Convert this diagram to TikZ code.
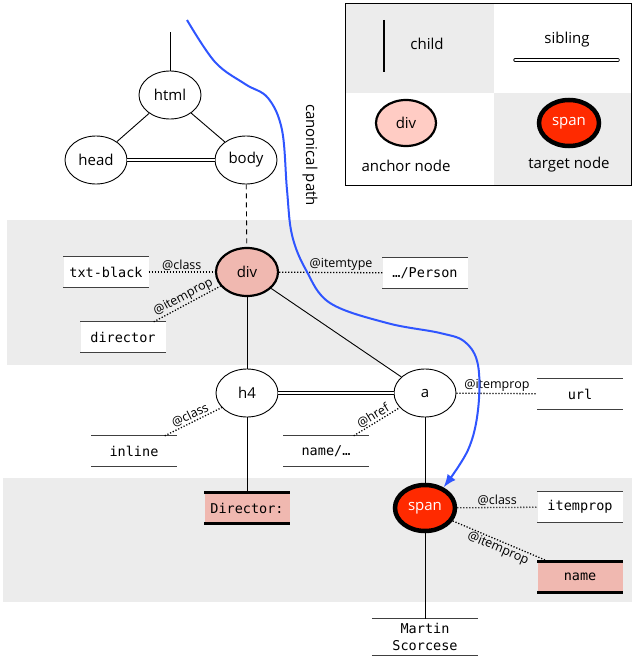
\documentclass[tikz,border=0pt]{standalone}
\usepackage{fontspec}
\setmainfont{Open Sans}
\setmonofont{DejaVu Sans Mono}
\usetikzlibrary{shapes.geometric,arrows.meta}

\definecolor{bandgray}{HTML}{ECECEC}
\definecolor{anchorpink}{HTML}{F0B8B0}
\definecolor{legendpink}{HTML}{FFCCC4}
\definecolor{targetred}{HTML}{FF2A00}
\definecolor{pathblue}{HTML}{2F55FF}

\tikzset{
  elem/.style={ellipse, draw, line width=0.9pt, minimum width=62pt, minimum height=48pt, inner sep=0pt, font=\fontsize{15}{18}\selectfont},
  anchornode/.style={elem, fill=anchorpink, line width=2.2pt},
  targetnode/.style={elem, fill=targetred, line width=4.5pt, text=white, minimum width=60pt, minimum height=46pt},
  valbox/.style={minimum width=85pt, minimum height=30pt, inner sep=0pt, fill=white, font=\fontsize{13.5}{16}\ttfamily},
  hitbox/.style={valbox, fill=anchorpink},
  valline/.style={line width=1.2pt, draw=black!75},
  hitline/.style={line width=2.8pt, draw=black},
  childline/.style={line width=0.9pt},
  sibline/.style={line width=0.7pt, double, double distance=2pt},
  attrline/.style={line width=1.3pt, dash pattern=on 1.2pt off 1.8pt},
  attr/.style={font=\fontsize{12.5}{14}\selectfont, inner sep=1pt},
  legendtext/.style={font=\fontsize{15}{18}\selectfont},
  canon/.style={draw=pathblue, line width=2pt, -{Latex[length=13pt,width=10pt]}}
}

\newcommand{\rulebox}[2][valline]{\draw[#1] (#2.north west) -- (#2.north east) (#2.south west) -- (#2.south east);}

\begin{document}
\begin{tikzpicture}[x=1pt, y=-1pt]
    \useasboundingbox (0,0) rectangle (632,661);

    \fill[bandgray] (7,220) rectangle (632,365);
    \fill[bandgray] (3,478) rectangle (632,602);

    \fill[bandgray] (345,4) rectangle (494,93);
    \fill[bandgray] (494,93) rectangle (632,185);
    \draw[line width=1pt] (345,4) rectangle (631.5,185);

    \coordinate (childtop) at (384,20);
    \coordinate (childbot) at (384,72);
    \draw[line width=1.2pt] (childtop) -- (childbot);
    \node[legendtext] (childlabel) at (427,44) {child};
    \node[legendtext] (siblabel) at (567,40) {sibling};
    \coordinate (sibleft) at (515,60);
    \coordinate (sibright) at (618,60);
    \draw[sibline, line cap=round] (sibleft) -- (sibright);
    \node[anchornode, fill=legendpink, minimum width=60pt, minimum height=46pt] (legdiv) at (406,123) {div};
    \node[legendtext] (leganchor) at (406,166) {anchor node};
    \node[targetnode] (legspan) at (569,123) {span};
    \node[legendtext] (legtarget) at (569,165) {target node};

    \coordinate (root) at (170,32);
    \node[elem] (html) at (170,95) {html};
    \node[elem] (head) at (96,160) {head};
    \node[elem] (body) at (246,160) {body};
    \node[anchornode] (div) at (247,272) {div};
    \node[elem] (h4) at (247,393) {h4};
    \node[elem] (a) at (425,393) {a};
    \node[targetnode] (span) at (425,508) {span};

    \node[valbox] (txt) at (106,272) {txt-black};
    \node[valbox] (director) at (123,337) {director};
    \node[valbox] (person) at (425,273) {…/Person};
    \node[valbox] (url) at (580,394) {url};
    \node[valbox] (inline) at (134,451) {inline};
    \node[valbox] (href) at (326,451) {name/…};
    \node[hitbox] (dirtext) at (247,508) {Director:};
    \node[valbox] (itemprop) at (580,507) {itemprop};
    \node[hitbox] (name) at (580,577) {name};
    \node[valbox, minimum width=106pt, minimum height=36pt, align=center, font=\fontsize{13.5}{17}\ttfamily] (martin) at (425,637) {Martin\\Scorcese};

    \rulebox{txt} \rulebox{director} \rulebox{person} \rulebox{url}
    \rulebox{inline} \rulebox{href} \rulebox{itemprop} \rulebox{martin}
    \rulebox[hitline]{dirtext} \rulebox[hitline]{name}

    \draw[childline] (html) -- (root);
    \draw[childline] (html) -- (head);
    \draw[childline] (html) -- (body);
    \draw[sibline] (head) -- (body);
    \draw[childline, dash pattern=on 5pt off 4pt] (body) -- (div);
    \draw[childline] (div) -- (h4);
    \draw[childline] (div) -- (a);
    \draw[sibline] (h4) -- (a);
    \draw[childline] (h4) -- (dirtext);
    \draw[childline] (a) -- (span);
    \draw[childline] (span) -- (martin);

    \draw[attrline] (txt) -- node[attr, above] {@class} (div);
    \draw[attrline] (div) -- node[attr, above, pos=0.6] {@itemtype} (person);
    \draw[attrline] ([xshift=-12pt]director.north east) -- node[attr, above, sloped] {@itemprop} (div.208);
    \draw[attrline] ([xshift=-12pt]inline.north east) -- node[attr, above, sloped] {@class} (h4.210);
    \draw[attrline] ([xshift=-15pt]href.north east) -- node[attr, above, sloped] {@href} (a.210);
    \draw[attrline] (a) -- node[attr, above] {@itemprop} (url);
    \draw[attrline] (span) -- node[attr, above] {@class} (itemprop);
    \draw[attrline] (span.-25) -- node[attr, below, sloped] {@itemprop} ([xshift=12pt]name.north west);

    \coordinate (pathstart) at (187,20);
    \draw[canon] plot[smooth, tension=0.6] coordinates {(pathstart) (215,62) (245,84) (268,98) (282,130) (287,190) (292,235) (306,270) (330,303) (387,323) (440,333) (465,342) (478,365) (478,410) (468,450) (span.48)};
    \node[legendtext, rotate=-90] (canonlabel) at (310,155) {canonical path};
\end{tikzpicture}
\end{document}
